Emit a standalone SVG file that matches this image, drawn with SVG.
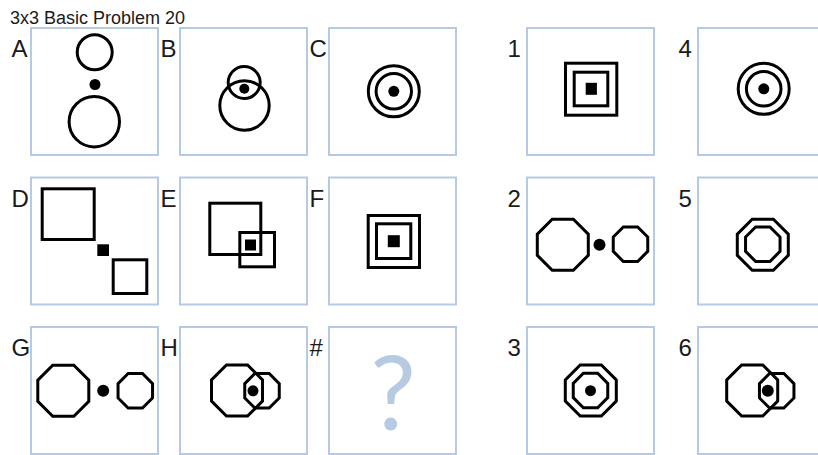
<svg xmlns="http://www.w3.org/2000/svg" width="818" height="455" viewBox="0 0 818 455">
<style>
.panel{fill:#ffffff;stroke:#b7cae4;stroke-width:2}
.lbl{font-family:"Liberation Sans",Arial,sans-serif;font-size:24px;fill:#1a1a1a}
.title{font-family:"Liberation Sans",Arial,sans-serif;font-size:18px;fill:#1a1a1a}
.sh{fill:none;stroke:#000;stroke-width:3;stroke-linejoin:miter}
.dot{fill:#000;stroke:none}
.q{font-family:Lato,"DejaVu Sans",sans-serif;font-size:102px;fill:#b7cae4}
</style>
<defs>
<path id="octB" class="sh" d="M-10.56,-25.5 L10.56,-25.5 L25.5,-10.56 L25.5,10.56 L10.56,25.5 L-10.56,25.5 L-25.5,10.56 L-25.5,-10.56 Z"/>
<path id="octS" class="sh" d="M-7.15,-17.25 L7.15,-17.25 L17.25,-7.15 L17.25,7.15 L7.15,17.25 L-7.15,17.25 L-17.25,7.15 L-17.25,-7.15 Z"/>
</defs>
<rect width="818" height="455" fill="#ffffff"/>
<text class="title" x="10" y="24">3x3 Basic Problem 20</text>

<g id="panel-A">
<rect class="panel" x="31" y="28" width="127" height="127"/>
<text class="lbl" x="11.5" y="57">A</text>
<circle class="sh" cx="94.7" cy="52.2" r="17.5"/>
<circle class="dot" cx="95" cy="84.5" r="5.5"/>
<circle class="sh" cx="94.3" cy="121.7" r="25.2"/>
</g>

<g id="panel-B">
<rect class="panel" x="180" y="28" width="127" height="127"/>
<text class="lbl" x="160.5" y="57">B</text>
<circle class="sh" cx="244.2" cy="82.5" r="16"/>
<circle class="sh" cx="244.5" cy="105.5" r="24.7"/>
<circle class="dot" cx="244.3" cy="88.8" r="5"/>
</g>

<g id="panel-C">
<rect class="panel" x="329" y="28" width="127" height="127"/>
<text class="lbl" x="309.5" y="57">C</text>
<circle class="sh" cx="393.8" cy="91.3" r="25.5"/>
<circle class="sh" cx="393.8" cy="91.3" r="17.7"/>
<circle class="dot" cx="393.8" cy="91.3" r="5.5"/>
</g>

<g id="panel-1">
<rect class="panel" x="527" y="28" width="127" height="127"/>
<text class="lbl" x="507.5" y="57">1</text>
<rect class="sh" x="565.5" y="63.2" width="51.3" height="52"/>
<rect class="sh" x="574.2" y="72.2" width="33.6" height="33.6"/>
<rect class="dot" x="585.7" y="82.8" width="11.2" height="12"/>
</g>

<g id="panel-4">
<rect class="panel" x="698" y="28" width="127" height="127"/>
<text class="lbl" x="678.5" y="57">4</text>
<circle class="sh" cx="763.7" cy="88.8" r="25.5"/>
<circle class="sh" cx="763.7" cy="88.8" r="17.3"/>
<circle class="dot" cx="763.8" cy="88.8" r="5.5"/>
</g>

<g id="panel-D">
<rect class="panel" x="31" y="177.5" width="127" height="127"/>
<text class="lbl" x="11.5" y="206.5">D</text>
<rect class="sh" x="42.2" y="188.8" width="52" height="50.7"/>
<rect class="dot" x="97.3" y="244.3" width="11.7" height="11.7"/>
<rect class="sh" x="113.2" y="259.8" width="33.6" height="33.7"/>
</g>

<g id="panel-E">
<rect class="panel" x="180" y="177.5" width="127" height="127"/>
<text class="lbl" x="160.5" y="206.5">E</text>
<rect class="sh" x="209.8" y="203.2" width="51" height="51.3"/>
<rect class="sh" x="239.8" y="232.5" width="34.7" height="34.3"/>
<rect class="dot" x="245" y="239.5" width="11" height="11"/>
</g>

<g id="panel-F">
<rect class="panel" x="329" y="177.5" width="127" height="127"/>
<text class="lbl" x="309.5" y="206.5">F</text>
<rect class="sh" x="368.2" y="215.5" width="51.3" height="52"/>
<rect class="sh" x="376.5" y="223.8" width="34.3" height="34.7"/>
<rect class="dot" x="387.8" y="235.2" width="12" height="12"/>
</g>

<g id="panel-2">
<rect class="panel" x="527" y="177.5" width="127" height="127"/>
<text class="lbl" x="507.5" y="206.5">2</text>
<use href="#octB" x="562.8" y="244.7"/>
<circle class="dot" cx="599.5" cy="244.8" r="6"/>
<use href="#octS" x="630.5" y="244.2"/>
</g>

<g id="panel-5">
<rect class="panel" x="698" y="177.5" width="127" height="127"/>
<text class="lbl" x="678.5" y="206.5">5</text>
<use href="#octB" x="762.8" y="244.7"/>
<use href="#octS" x="762.8" y="244.2"/>
</g>

<g id="panel-G">
<rect class="panel" x="31" y="327" width="127" height="127"/>
<text class="lbl" x="11.5" y="356">G</text>
<use href="#octB" x="63.3" y="390.8"/>
<circle class="dot" cx="103.2" cy="390.8" r="6"/>
<use href="#octS" x="135.3" y="390.8"/>
</g>

<g id="panel-H">
<rect class="panel" x="180" y="327" width="127" height="127"/>
<text class="lbl" x="160.5" y="356">H</text>
<use href="#octB" x="237" y="390.5"/>
<use href="#octS" x="262" y="390.8"/>
<circle class="dot" cx="253" cy="390.8" r="5.5"/>
</g>

<g id="panel-answer">
<rect class="panel" x="329" y="327" width="127" height="127"/>
<text class="lbl" x="309.5" y="356">#</text>
<text class="q" x="393" y="430" text-anchor="middle">?</text>
</g>

<g id="panel-3">
<rect class="panel" x="527" y="327" width="127" height="127"/>
<text class="lbl" x="507.5" y="356">3</text>
<use href="#octB" x="590.8" y="390.5"/>
<use href="#octS" x="590.5" y="390.5"/>
<circle class="dot" cx="590.5" cy="390.7" r="5.5"/>
</g>

<g id="panel-6">
<rect class="panel" x="698" y="327" width="127" height="127"/>
<text class="lbl" x="678.5" y="356">6</text>
<use href="#octB" x="752.2" y="390.5"/>
<use href="#octS" x="776.7" y="390.8"/>
<circle class="dot" cx="767.8" cy="390.8" r="6"/>
</g>

<g id="connectors"/>
</svg>
